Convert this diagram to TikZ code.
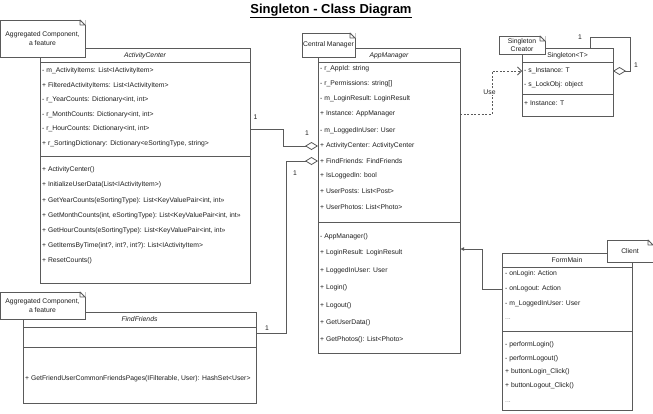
\documentclass[tikz,border=0pt]{standalone}
\usepackage{fontspec}
\setmainfont{Liberation Sans}
\usetikzlibrary{arrows.meta}
\definecolor{ln}{HTML}{5A5A5A}
\definecolor{tx}{HTML}{1E1E1E}
\newcommand\notefold[1]{%
  \fill[white] ([xshift=-5pt,yshift=0.6pt]#1.north east) -- ([xshift=0.6pt,yshift=0.6pt]#1.north east) -- ([xshift=0.6pt,yshift=-5pt]#1.north east) -- cycle;
  \draw[ln, line width=0.8pt, line join=round] ([xshift=-5pt]#1.north east) -- ([yshift=-5pt]#1.north east) -- ([xshift=-5pt,yshift=-5pt]#1.north east) -- cycle;}
\begin{document}
\begin{tikzpicture}[x=1pt,y=-1pt,
  box/.style={draw=ln, line width=0.8pt, fill=white, anchor=north west, inner sep=0pt, outer sep=0pt},
  row/.style={anchor=west, inner sep=0pt, font=\fontsize{6.8}{8}\selectfont, text=tx},
  hdr/.style={inner sep=0pt, font=\fontsize{6.8}{8}\selectfont, text=tx},
  notebox/.style={draw=ln, line width=0.8pt, fill=white, inner sep=0pt, outer sep=0pt, anchor=north west, align=center, font=\fontsize{6.8}{9}\selectfont, text=tx},
  conn/.style={draw=ln, line width=0.8pt},
  lbl/.style={inner sep=0pt, font=\fontsize{6.8}{8}\selectfont, text=tx},
  dvd/.style={draw=ln, line width=0.8pt},
  agg/.style={-{Diamond[open,length=13pt,width=8pt]}},
]
\useasboundingbox (0,0) rectangle (653,413);

% title
\node[inner sep=0pt, font=\fontsize{13}{15}\selectfont\bfseries] (title) at (331,11) {\underline{Singleton - Class Diagram}};

% ---------- ActivityCenter ----------
\node[box, minimum width=210pt, minimum height=235pt] (ac) at (40,48) {};
\node[hdr, font=\fontsize{6.8}{8}\selectfont\itshape] (achdr) at (145,55.5) {ActivityCenter};
\draw[dvd] (40,62) -- (250,62);
\draw[dvd] (40,156) -- (250,156);
\node[row] (aca1) at (42,71) {- m\_ActivityItems: List<IActivityItem>};
\node[row] (aca2) at (42,85.5) {+ FilteredActivityItems: List<IActivityItem>};
\node[row] (aca3) at (42,100) {- r\_YearCounts: Dictionary<int, int>};
\node[row] (aca4) at (42,114.5) {- r\_MonthCounts: Dictionary<int, int>};
\node[row] (aca5) at (42,129) {- r\_HourCounts: Dictionary<int, int>};
\node[row] (aca6) at (42,143.5) {+ r\_SortingDictionary: Dictionary<eSortingType, string>};
\node[row] (acm1) at (42,170) {+ ActivityCenter()};
\node[row] (acm2) at (42,185) {+ InitializeUserData(List<IActivityItem>)};
\node[row] (acm3) at (42,200.5) {+ GetYearCounts(eSortingType): List<KeyValuePair<int, int>>};
\node[row] (acm4) at (42,215.5) {+ GetMonthCounts(int, eSortingType): List<KeyValuePair<int, int>>};
\node[row] (acm5) at (42,231) {+ GetHourCounts(eSortingType): List<KeyValuePair<int, int>>};
\node[row] (acm6) at (42,246) {+ GetItemsByTime(int?, int?, int?): List<IActivityItem>};
\node[row] (acm7) at (42,261) {+ ResetCounts()};

% ---------- FindFriends ----------
\node[box, minimum width=233pt, minimum height=91pt] (ff) at (23,312) {};
\node[hdr, font=\fontsize{6.8}{8}\selectfont\itshape] (ffhdr) at (139.5,319.5) {FindFriends};
\draw[dvd] (23,327) -- (256,327);
\draw[dvd] (23,347) -- (256,347);
\node[row] (ffm1) at (25,379) {+ GetFriendUserCommonFriendsPages(IFilterable, User): HashSet<User>};

% ---------- AppManager ----------
\node[box, minimum width=142pt, minimum height=305pt] (am) at (318,48) {};
\node[hdr, font=\fontsize{6.8}{8}\selectfont\itshape] (amhdr) at (389,56) {AppManager};
\draw[dvd] (318,62) -- (460,62);
\draw[dvd] (318,222) -- (460,222);
\node[row] (ama1) at (320,69) {- r\_AppId: string};
\node[row] (ama2) at (320,84) {- r\_Permissions: string[]};
\node[row] (ama3) at (320,99) {- m\_LoginResult: LoginResult};
\node[row] (ama4) at (320,114) {+ Instance: AppManager};
\node[row] (ama5) at (320,131) {- m\_LoggedInUser: User};
\node[row] (ama6) at (320,146) {+ ActivityCenter: ActivityCenter};
\node[row] (ama7) at (320,161) {+ FindFriends: FindFriends};
\node[row] (ama8) at (320,176) {+ IsLoggedIn: bool};
\node[row] (ama9) at (320,191) {+ UserPosts: List<Post>};
\node[row] (ama10) at (320,207) {+ UserPhotos: List<Photo>};
\node[row] (amm1) at (320,237) {- AppManager()};
\node[row] (amm2) at (320,253) {+ LoginResult: LoginResult};
\node[row] (amm3) at (320,271) {+ LoggedInUser: User};
\node[row] (amm4) at (320,288) {+ Login()};
\node[row] (amm5) at (320,306) {+ Logout()};
\node[row] (amm6) at (320,323) {+ GetUserData()};
\node[row] (amm7) at (320,340) {+ GetPhotos(): List<Photo>};

% ---------- Singleton<T> ----------
\node[box, minimum width=91pt, minimum height=68pt] (sg) at (522,48) {};
\node[hdr] (sghdr) at (567.5,55.5) {Singleton<T>};
\draw[dvd] (522,62) -- (613,62);
\draw[dvd] (522,94) -- (613,94);
\node[row] (sga1) at (524,71) {- s\_Instance: T};
\node[row] (sga2) at (524,85) {- s\_LockObj: object};
\node[row] (sgm1) at (524,103.5) {+ Instance: T};

% ---------- FormMain ----------
\node[box, minimum width=130pt, minimum height=157pt] (fm) at (502,253) {};
\node[hdr] (fmhdr) at (567,260) {FormMain};
\draw[dvd] (502,267) -- (632,267);
\draw[dvd] (502,331) -- (632,331);
\node[row] (fma1) at (505,273.5) {- onLogin: Action};
\node[row] (fma2) at (505,289) {- onLogout: Action};
\node[row] (fma3) at (505,304) {- m\_LoggedInUser: User};
\node[row, text=black!45] (fma4) at (505,319.5) {...};
\node[row] (fmm1) at (505,345) {- performLogin()};
\node[row] (fmm2) at (505,358.5) {- performLogout()};
\node[row] (fmm3) at (505,372) {+ buttonLogin\_Click()};
\node[row] (fmm4) at (505,385.5) {+ buttonLogout\_Click()};
\node[row, text=black!45] (fmm5) at (505,402) {...};

% ---------- connectors ----------
\draw[conn, agg] (ac.east |- aca5) -- ++(33,0) |- (am.west |- ama6);
\coordinate (ffc) at (256,333);
\draw[conn, agg] (ffc) -- ++(30,0) |- (am.west |- ama7);
\node[lbl] (l1) at (255.5,117) {1};
\node[lbl] (l2) at (307,133) {1};
\node[lbl] (l3) at (267,328) {1};
\node[lbl] (l4) at (295,173) {1};

% Use dependency
\draw[conn, dash pattern=on 2pt off 1.6pt, -{Straight Barb[length=4pt,width=8pt]}] (am.east |- ama4) -- ++(32,0) |- (sg.west |- sga1);
\node[lbl, fill=white, inner sep=1pt] (use) at (489.5,92) {Use};

% self aggregation on Singleton
\coordinate (sgtop) at (590,48);
\coordinate (sgcor) at (630,37);
\draw[conn, agg] (sgtop) |- (sgcor) |- (sg.east |- sga1);
\node[lbl] (l5) at (580,37) {1};
\node[lbl] (l6) at (636,65) {1};

% FormMain -> AppManager
\coordinate (fmbend) at (482,249);
\draw[conn, -{Latex[length=4pt,width=4pt]}] (fm.west |- fma2) -| (fmbend) -- (am.east |- fmbend);

% ---------- notes ----------
\node[notebox, minimum width=85pt, minimum height=37pt] (n1) at (0,20) {Aggregated Component,\\a feature};
\notefold{n1}
\node[notebox, minimum width=85pt, minimum height=27pt] (n2) at (0,292) {Aggregated Component,\\a feature};
\notefold{n2}
\node[notebox, minimum width=53pt, minimum height=24pt] (n3) at (302,33) {Central Manager};
\notefold{n3}
\node[notebox, minimum width=46pt, minimum height=18pt, font=\fontsize{6.8}{8}\selectfont] (n4) at (499,36) {Singleton\\Creator};
\notefold{n4}
\node[notebox, minimum width=46pt, minimum height=22pt] (n5) at (607,240) {Client};
\notefold{n5}
\end{tikzpicture}
\end{document}
